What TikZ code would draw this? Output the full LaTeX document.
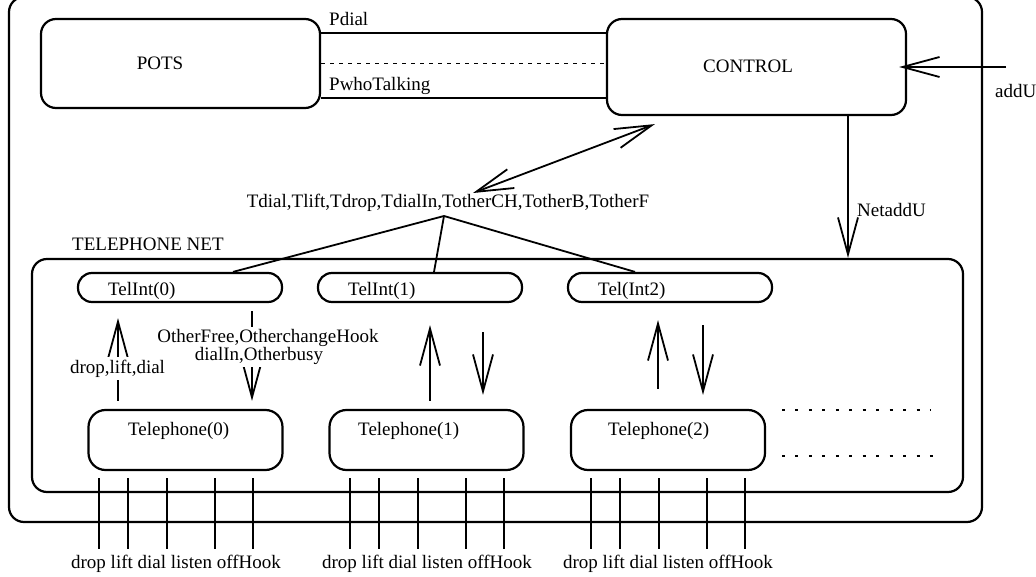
\documentclass[tikz,border=0pt]{standalone}
\usepackage{fontspec}
\setmainfont{Liberation Serif}
\newfontfamily\diagfont{Liberation Serif}
\usetikzlibrary{arrows.meta,calc}
\begin{document}
\begin{tikzpicture}[x=1pt,y=-1pt,
  every node/.style={font=\diagfont\fontsize{19}{22}\selectfont, inner sep=0pt},
  box/.style={draw, line width=2.2pt, rounded corners=15pt},
  pill/.style={draw, line width=2.2pt, rounded corners=14pt, minimum width=204pt, minimum height=29pt},
  phone/.style={draw, line width=2.2pt, rounded corners=17pt, minimum width=194pt, minimum height=60pt},
  conn/.style={line width=1.8pt},
  arr/.style={line width=1.8pt, -{Straight Barb[length=37pt,width=20pt]}},
  dbl/.style={line width=1.8pt, {Straight Barb[length=37pt,width=20pt]}-{Straight Barb[length=37pt,width=20pt]}},
  wire/.style={line width=1.4pt},
  dotline/.style={line width=2pt, dash pattern=on 3pt off 10.45pt},
  lbl/.style={anchor=base west},
  cut/.style={fill=white, inner sep=2.5pt}]
\useasboundingbox (0,0) rectangle (1036,577);

% containers
\node[box, minimum width=973pt, minimum height=525pt] (Outer) at (495.5,259.5) {};
\node[box, minimum width=931pt, minimum height=233pt] (Net) at (497.5,375.5) {};

% top boxes
\node[box, minimum width=279pt, minimum height=89pt] (POTS) at (180.5,63.5) {};
\node[box, minimum width=299pt, minimum height=96pt] (CONTROL) at (756.5,67) {};
\node (tPOTS) at (160,63) {POTS};
\node (tCONTROL) at (748,66) {CONTROL};

% POTS - CONTROL channels
\coordinate (yA) at (0,33);
\coordinate (yB) at (0,98);
\draw[conn] (POTS.east |- yA) -- (CONTROL.west |- yA);
\draw[conn] (POTS.east |- yB) -- (CONTROL.west |- yB);
\draw[line width=1pt, dash pattern=on 4pt off 5pt] (POTS.east) -- (POTS.east -| CONTROL.west);
\node[lbl] (lPdial) at (329,26) {Pdial};
\node[lbl] (lPwho) at (329,91) {PwhoTalking};

% addU
\coordinate (addUin) at (1006,67);
\draw[arr] (addUin) -- ([xshift=-8pt]CONTROL.east);
\node[lbl] (laddU) at (995,98) {addU};

% NetaddU
\coordinate (xN) at (848,0);
\draw[arr] (CONTROL.south -| xN) -- (Net.north -| xN);
\node[lbl] (lNetaddU) at (857,217) {NetaddU};

% TELEPHONE NET label
\node[lbl] (lNet) at (72,251) {TELEPHONE NET};

% interface nodes
\node[pill] (TI0) at (180,287.5) {};
\node[pill] (TI1) at (420,287.5) {};
\node[pill] (TI2) at (670,287.5) {};
\node[lbl] (tTI0) at (108,296) {TelInt(0)};
\node[lbl] (tTI1) at (348,296) {TelInt(1)};
\node[lbl] (tTI2) at (598,296) {Tel(Int2)};

% telephones
\node[phone] (T0) at (185.5,440) {};
\node[phone] (T1) at (426.5,440) {};
\node[phone] (T2) at (668,440) {};
\node[lbl] (tT0) at (128,435) {Telephone(0)};
\node[lbl] (tT1) at (358,435) {Telephone(1)};
\node[lbl] (tT2) at (608,435) {Telephone(2)};

% Tdial label, tree and double arrow
\node[anchor=base] (lT) at (448,208) {Tdial,Tlift,Tdrop,TdialIn,TotherCH,TotherB,TotherF};
\coordinate (apex) at (444,216);
\draw[conn] (apex) -- ($(TI0.north)+(53,0)$);
\draw[conn] (apex) -- ($(TI1.north)+(14,0)$);
\draw[conn] (apex) -- ($(TI2.north)+(-35,0)$);
\coordinate (dA) at (473,193);
\draw[dbl] (dA) -- ($(CONTROL.south west)+(49,8)$);

% telephone <-> interface arrows
\coordinate (u0) at (118,0);
\coordinate (d0) at (252,0);
\coordinate (u1) at (430,0);
\coordinate (d1) at (483,0);
\coordinate (u2) at (658,0);
\coordinate (d2) at (703,0);
\draw[arr, shorten <=8pt, shorten >=15pt] (T0.north -| u0) -- (TI0.south -| u0);
\draw[arr, shorten <=8pt, shorten >=8pt] (TI0.south -| d0) -- (T0.north -| d0);
\draw[arr, shorten <=8pt, shorten >=22pt] (T1.north -| u1) -- (TI1.south -| u1);
\draw[arr, shorten <=29pt, shorten >=14pt] (TI1.south -| d1) -- (T1.north -| d1);
\draw[arr, shorten <=20pt, shorten >=17pt] (T2.north -| u2) -- (TI2.south -| u2);
\draw[arr, shorten <=22pt, shorten >=14pt] (TI2.south -| d2) -- (T2.north -| d2);
\node[cut, align=center, font=\diagfont\fontsize{19}{14.5}\selectfont] (ldn0) at (268,347) {OtherFree,OtherchangeHook\\dialIn,Otherbusy\hspace*{18pt}};
\node[cut, anchor=base] (lup0) at (117.5,373) {drop,lift,dial};

% continuation dots
\draw[dotline] (782,410) -- (930,410);
\draw[dotline] (782,456) -- (943,456);

% wires to environment
\foreach \x in {99,128,167,215,253,350,379,418,466,504,591,620,659,707,745}
  \draw[wire] (\x,478) -- (\x,549);
\node[anchor=base] (w0) at (176,568) {drop lift dial listen offHook};
\node[anchor=base] (w1) at (427,568) {drop lift dial listen offHook};
\node[anchor=base] (w2) at (668,568) {drop lift dial listen offHook};
\end{tikzpicture}
\end{document}
